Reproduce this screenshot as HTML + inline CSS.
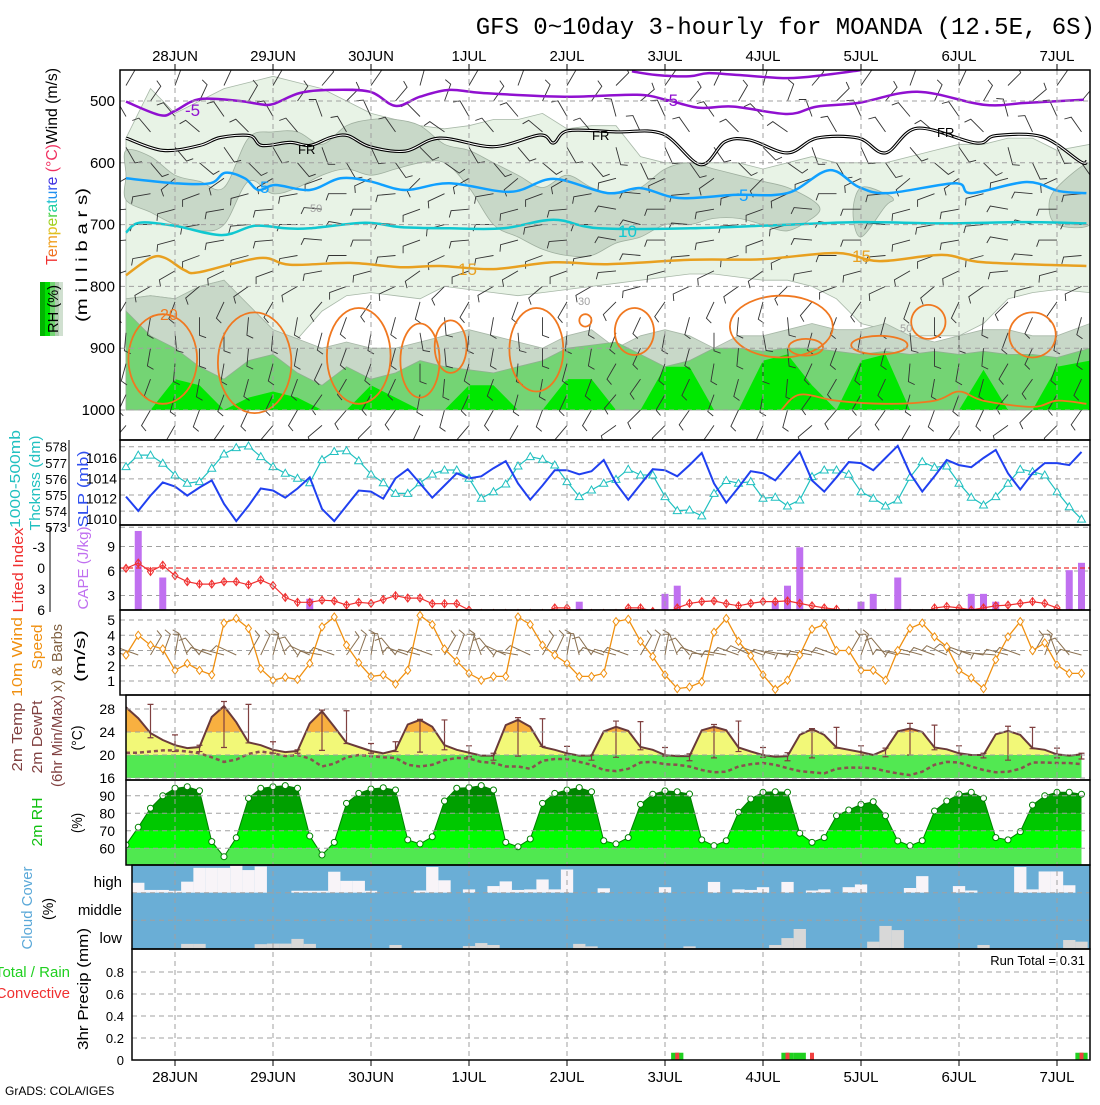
<!DOCTYPE html>
<html><head><meta charset="utf-8"><style>
body{margin:0;background:#fff}
svg text{font-family:"Liberation Sans",sans-serif}
</style></head><body>
<svg id="c" width="1100" height="1100" xmlns="http://www.w3.org/2000/svg">
<rect x="0" y="0" width="1100" height="1100" fill="#fff"/>
<text x="1095" y="34" text-anchor="end" font-family="Liberation Mono, monospace" font-size="24" style="font-family:'Liberation Mono',monospace">GFS 0~10day 3-hourly for MOANDA (12.5E, 6S)</text>

<text transform="rotate(-90 57 265)" x="57" y="265" font-size="16" textLength="197" lengthAdjust="spacingAndGlyphs"><tspan fill="#f03030">T</tspan><tspan fill="#f07020">e</tspan><tspan fill="#f0a020">m</tspan><tspan fill="#e0c020">p</tspan><tspan fill="#a0d020">e</tspan><tspan fill="#40d040">r</tspan><tspan fill="#20d0a0">a</tspan><tspan fill="#20c0d0">t</tspan><tspan fill="#2090f0">u</tspan><tspan fill="#3050f0">r</tspan><tspan fill="#4030e0">e</tspan><tspan fill="#f03060"> (°C)</tspan><tspan fill="#000">Wind (m/s)</tspan></text>
<text transform="rotate(-90 87 255)" x="87" y="255" font-size="16" text-anchor="middle" textLength="134" lengthAdjust="spacingAndGlyphs">(m i l l i b a r s)</text>
<g>
<rect x="40" y="282" width="5" height="54" fill="#00b400"/><rect x="45" y="282" width="5" height="54" fill="#00e000"/><rect x="50" y="282" width="5" height="54" fill="#74d474"/><rect x="55" y="282" width="4" height="54" fill="#b0ccb0"/><rect x="59" y="282" width="4" height="54" fill="#d0e0d0"/>
<text transform="rotate(-90 58 309)" x="58" y="309" font-size="15" text-anchor="middle" textLength="48" lengthAdjust="spacingAndGlyphs">RH (%)</text>
</g>
<text transform="rotate(-90 20 479)" x="20" y="479" font-size="15" fill="#20c0c0" text-anchor="middle" textLength="98" lengthAdjust="spacingAndGlyphs">1000-500mb</text>
<text transform="rotate(-90 40 483)" x="40" y="483" font-size="15" fill="#20c0c0" text-anchor="middle" textLength="95" lengthAdjust="spacingAndGlyphs">Thcknss (dm)</text>
<text transform="rotate(-90 88 489)" x="88" y="489" font-size="15" fill="#3050f0" text-anchor="middle" textLength="77" lengthAdjust="spacingAndGlyphs">SLP (mb)</text>
<text transform="rotate(-90 23 570)" x="23" y="570" font-size="15" fill="#f03030" text-anchor="middle" textLength="85" lengthAdjust="spacingAndGlyphs">Lifted Index</text>
<text transform="rotate(-90 88 568)" x="88" y="568" font-size="15" fill="#c070f0" text-anchor="middle" textLength="83" lengthAdjust="spacingAndGlyphs">CAPE (J/kg)</text>
<text transform="rotate(-90 22 657)" x="22" y="657" font-size="15" fill="#f09010" text-anchor="middle" textLength="80" lengthAdjust="spacingAndGlyphs">10m Wind</text>
<text transform="rotate(-90 42 647)" x="42" y="647" font-size="15" fill="#f09010" text-anchor="middle" textLength="45" lengthAdjust="spacingAndGlyphs">Speed</text>
<text transform="rotate(-90 62 658)" x="62" y="658" font-size="15" fill="#806040" text-anchor="middle" textLength="68" lengthAdjust="spacingAndGlyphs">x) &amp; Barbs</text>
<text transform="rotate(-90 85 656)" x="85" y="656" font-size="15" text-anchor="middle" textLength="52" lengthAdjust="spacingAndGlyphs">(m/s)</text>
<text transform="rotate(-90 22 737)" x="22" y="737" font-size="15" fill="#804040" text-anchor="middle" textLength="69" lengthAdjust="spacingAndGlyphs">2m Temp</text>
<text transform="rotate(-90 42 737)" x="42" y="737" font-size="15" fill="#804040" text-anchor="middle" textLength="73" lengthAdjust="spacingAndGlyphs">2m DewPt</text>
<text transform="rotate(-90 62 741)" x="62" y="741" font-size="15" fill="#804040" text-anchor="middle" textLength="92" lengthAdjust="spacingAndGlyphs">(6hr Min/Max)</text>
<text transform="rotate(-90 82 738)" x="82" y="738" font-size="15" text-anchor="middle" textLength="25" lengthAdjust="spacingAndGlyphs">(°C)</text>
<text transform="rotate(-90 42 822)" x="42" y="822" font-size="15" fill="#10c010" text-anchor="middle" textLength="49" lengthAdjust="spacingAndGlyphs">2m RH</text>
<text transform="rotate(-90 82 823)" x="82" y="823" font-size="15" text-anchor="middle" textLength="20" lengthAdjust="spacingAndGlyphs">(%)</text>
<text transform="rotate(-90 32 908)" x="32" y="908" font-size="15" fill="#5aa8d8" text-anchor="middle" textLength="83" lengthAdjust="spacingAndGlyphs">Cloud Cover</text>
<text transform="rotate(-90 53 909)" x="53" y="909" font-size="15" text-anchor="middle" textLength="22" lengthAdjust="spacingAndGlyphs">(%)</text>
<text x="122" y="887" font-size="15" text-anchor="end">high</text>
<text x="122" y="915" font-size="15" text-anchor="end">middle</text>
<text x="122" y="943" font-size="15" text-anchor="end">low</text>
<text x="70" y="977" font-size="15" fill="#20d020" text-anchor="end">Total / Rain</text>
<text x="70" y="998" font-size="15" fill="#f03030" text-anchor="end">Convective</text>
<text transform="rotate(-90 88 989)" x="88" y="989" font-size="15" text-anchor="middle" textLength="122" lengthAdjust="spacingAndGlyphs">3hr Precip (mm)</text>
<text x="1085" y="965" font-size="13" text-anchor="end">Run Total = 0.31</text>
<text x="5" y="1095" font-size="12">GrADS: COLA/IGES</text>
</svg>
<script>
const days=["28JUN","29JUN","30JUN","1JUL","2JUL","3JUL","4JUL","5JUL","6JUL","7JUL"];
const slp=[1012.2,1010.8,1012.3,1013.6,1013.2,1012.3,1013.1,1013.8,1011.5,1009.8,1011.3,1013.0,1012.8,1012.1,1013.0,1014.1,1011.0,1009.8,1011.3,1012.8,1012.7,1012.0,1014.0,1014.9,1013.5,1012.1,1013.3,1014.5,1014.0,1014.2,1015.0,1015.7,1013.5,1011.9,1013.3,1014.8,1014.8,1014.4,1014.7,1015.8,1013.5,1011.9,1013.4,1014.9,1014.8,1014.2,1015.3,1016.5,1013.5,1011.6,1013.1,1014.7,1014.5,1013.8,1015.2,1016.6,1013.8,1012.7,1014.1,1015.6,1015.5,1014.8,1016.0,1017.2,1014.5,1012.7,1014.2,1015.8,1015.3,1015.1,1016.0,1016.8,1014.5,1012.9,1014.5,1015.5,1015.5,1015.3,1016.6];
const thick=[576.76,577.48,577.48,576.97,576.24,575.73,575.83,576.66,577.55,577.94,578.04,577.38,576.76,576.35,576.04,575.76,577.2,577.7,577.75,577.13,576.3,575.76,575.1,575.1,575.76,576.3,576.55,576.55,576.04,574.8,575.2,575.68,576.8,577.38,577.22,576.86,575.83,574.9,575.31,575.73,575.97,576.6,576.24,576.24,574.9,574.03,574.07,573.7,575.1,575.9,575.73,575.83,574.8,574.86,574.32,574.69,576.14,576.55,576.55,576.29,575.2,574.8,574.32,574.69,576.1,577.07,576.72,576.8,575.73,574.86,574.38,574.9,575.73,576.6,576.45,576.24,575.2,574.27,573.5];
const cape=[0,10.9,0,5.2,0,0,0,0,0,0,0,0,0,0,0,2.6,0,0,0,0,0,0,0,0,0,0,0,0,0,0,0,0,0,0,0,0,0,2.24,0,0,0,0,0,0,3.2,4.2,0,0,0,0,0,0,0,2.24,4.2,8.9,0,0,0,0,2.24,3.2,0,5.2,0,0,0,0,0,3.2,3.2,2.24,0,0,0,0,0,6.1,7.0];
const li=[0.05,-0.7,0.5,-0.4,1.1,1.96,2.3,2.3,1.96,1.96,2.4,1.7,2.5,4.2,4.9,4.9,4.6,4.7,5.3,4.9,5.05,4.5,3.96,4.3,4.3,5.1,5.1,5.1,6.0,6.5,6.5,6.5,6.5,6.5,6.5,5.7,5.7,6.5,6.5,6.5,6.5,5.7,5.7,6.2,6.5,5.7,5.05,4.8,4.7,5.1,5.4,5.05,4.8,4.8,4.7,5.05,5.4,5.7,5.9,6.5,6.5,6.5,6.5,6.5,6.5,6.5,5.7,5.5,5.7,6.0,5.7,5.4,5.3,5.05,4.8,5.05,5.7,6.5,6.5];
const wspd=[2.7,4.0,3.35,3.1,1.7,2.15,1.7,1.4,4.8,5.1,4.45,1.8,1.05,1.25,1.1,2.15,4.55,5.2,3.35,2.2,1.3,1.4,0.8,1.7,5.3,4.7,3.1,2.3,1.5,1.05,1.3,1.3,5.2,4.7,3.35,2.7,2.15,1.3,1.3,1.5,4.9,5.05,3.6,2.6,1.4,0.5,0.6,0.95,4.2,5.1,3.6,2.65,1.4,0.45,1.05,2.7,4.4,4.7,3.0,3.0,1.7,1.7,1.05,3.0,4.45,4.8,3.9,3.25,1.7,1.2,0.5,2.4,3.9,4.9,3.0,3.5,2.05,1.5,1.5];
const wdir10=[195,200,300,290,280,250,230,200,195,205,300,295,285,250,235,205,190,200,305,290,280,255,230,200,195,200,300,290,285,250,230,205,190,205,300,295,280,255,235,200,195,200,300,290,280,250,230,200,185,190,200,205,200,195,190,185,190,195,200,300,290,250,230,195,190,195,200,205,210,200,190,185,195,200,300,290,250,230,195];
const temp=[28.3,26.4,23.8,22.6,21.7,21.2,21.4,26.6,28.5,25.7,22.2,21.7,20.9,20.5,20.7,25.5,27.6,24.9,22.1,21.4,20.7,20.3,20.8,25.3,26.1,24.9,21.7,20.9,20.4,19.9,19.9,25.2,26.1,24.9,21.4,20.9,20.3,19.9,19.9,24.1,24.9,24.2,21.4,20.9,20.0,19.8,19.8,24.3,24.9,24.3,21.3,20.6,20.0,19.7,19.8,23.5,24.5,23.5,21.3,20.9,20.5,20.0,20.9,24.1,24.6,24.0,21.3,21.0,20.3,20.0,20.0,23.6,24.2,23.5,21.2,20.9,20.1,19.9,20.1];
const dewp=[20.4,20.4,20.6,20.8,20.8,20.6,20.3,19.6,18.8,19.2,20.2,20.6,20.3,19.8,20.0,19.4,18.0,18.5,19.6,20.0,19.8,19.6,19.5,18.3,18.0,18.3,19.1,19.5,19.4,18.8,18.6,18.0,18.0,17.6,19.0,19.3,19.3,18.8,18.3,17.4,17.2,17.6,18.7,18.8,18.4,18.3,18.0,17.4,17.0,17.1,18.0,18.4,18.6,18.3,17.7,17.2,17.0,16.8,17.6,17.8,17.8,17.7,17.2,16.8,16.5,17.1,18.3,18.8,18.7,18.0,17.4,17.0,17.1,17.6,18.7,18.7,18.6,18.6,18.4];
const tmax=[null,28.8,23.5,21.7,29.3,28.8,22.3,20.9,27.8,27.7,22.0,22.3,26.2,26.1,21.6,20.3,26.5,26.3,21.5,20.0,25.9,25.8,21.3,20.2,25.3,25.9,21.3,20.4,24.6,24.8,21.6,21.2,25.5,25.2,21.6,20.3,25.0,24.8,21.2,20.3];
const tmin=[null,23.0,20.6,20.6,21.3,22.1,20.3,20.3,20.8,22.0,20.3,20.6,20.5,20.9,19.7,19.1,19.8,21.5,20.0,19.1,19.6,20.9,19.8,19.0,19.5,20.6,19.6,19.0,19.5,21.2,20.0,19.7,20.0,20.9,20.0,19.5,19.1,21.1,19.5,19.3];
const rh=[61.9,72,82.9,90,94.3,95.2,92.9,63.8,55.2,66,88.6,94.3,95.2,95.8,94.3,67,56.2,63.4,85.7,91.4,93.9,94.6,93.3,64.8,62.5,66.6,87,94.3,94.7,95.8,93.3,63.4,60.9,65.3,85.7,91.4,93.3,94.7,92.3,64.3,62.5,66.1,85.1,90.9,92.8,92.3,91,64.8,61.5,64.3,80.6,88.2,92,92.3,92,68.6,63.4,66.1,78.6,81.9,85.1,86.6,78.6,64.2,61.5,64.3,81.3,87,90.9,92,88.6,66.1,64.8,69.5,84.7,90,92,92,90.9];
const cldHigh=[0,36,10,10,7,40,90,90,90,100,82,95,0,0,7,7,7,76,43,43,7,0,0,0,8,93,45,0,12,0,24,41,10,12,48,12,84,0,0,16,0,0,0,0,20,0,0,0,39,0,12,10,20,0,39,0,8,12,0,20,30,0,0,0,17,60,0,0,24,8,0,0,0,93,12,77,77,27,0];
const cldLow=[0,0,0,0,0,16,16,0,0,0,0,15,17,17,34,16,0,0,0,0,0,0,12,0,0,0,0,0,8,19,12,0,0,0,0,0,0,16,7,0,0,0,0,0,0,0,7,0,0,0,0,0,0,12,37,70,0,0,0,0,0,24,81,66,0,0,0,0,0,0,12,0,0,0,0,0,0,30,24];
const precipTotal={45:0.066,54:0.066,55:0.066,78:0.066};
const precipConv={45:0.066,54:0.066,56:0.066,78:0.066};
const lightTop=[560,480,520,500,480,470,460,470,480,500,520,530,540,545,540,530,530,520,545,540,540,590,600,600,600,600,610,600,590,600,600,600,590,580,570,570,560,560,580,570];
const lightBot=[820,815,820,800,790,830,870,885,840,815,810,815,820,800,805,810,815,810,805,800,795,790,785,780,780,785,790,790,800,820,860,870,880,880,880,860,820,810,805,810];
const grayTop=[820,815,820,800,790,830,870,885,900,890,900,900,890,880,870,880,890,900,880,870,900,880,870,880,900,880,880,870,860,870,870,860,880,890,880,870,870,880,880,860];
const greenTop=[840,880,900,930,950,920,910,940,960,930,950,940,920,930,935,940,930,920,900,895,890,910,930,920,900,900,905,900,900,905,910,905,910,905,910,905,910,910,915,900];
const brightTop=[1000,1000,950,960,1000,980,970,980,1000,1000,960,980,1000,1000,960,960,1000,1000,950,950,1000,1000,930,930,1000,1000,920,910,960,1000,920,910,1000,1000,1000,935,1000,1000,930,920];
const midTop=[580,590,620,630,640,560,550,550,570,540,530,530,540,570,580,600,620,640,620,640,650,640,610,600,610,620,630,640,660,0,640,650,0,0,0,0,0,0,640,600];
const midBot=[660,680,700,710,700,630,650,640,620,610,620,610,600,600,640,700,720,740,750,750,730,720,700,700,690,690,700,710,690,0,720,670,0,0,0,0,0,0,700,700];
const cM5=[[0,501],[2.8,523],[4,516],[6,497],[9.3,500],[10.9,505],[12,505],[14.2,487],[16.7,482],[19.9,485],[22,508],[24,493],[26.4,482],[29.1,487],[35.8,493],[41.7,490],[44.1,498],[46.8,511],[49.6,509],[54,521],[56.4,509],[59.8,503],[64.6,485],[70,506],[73.5,503],[78.2,498]];
const cM5b=[[41.3,452],[43.3,458],[46,460],[47.5,455],[50,458],[54,463],[57,458],[60,450]];
const cFR=[[0,560],[3,580],[6,572],[7.7,559],[10.1,556],[11.1,572],[13.4,567],[15,572],[16.7,559],[18.1,556],[19.9,574],[22.8,581],[25.6,560],[30,574],[33.8,555],[34.9,568],[36.1,548],[40,550],[43.8,553],[46.9,603],[48.9,566],[50.9,563],[54,584],[56.4,560],[59.8,560],[62,584],[64.6,544],[69.4,568],[71,556],[74.8,558],[77.9,598],[78.4,598]];
const cP5=[[0,625],[4,633],[6.9,633],[8.1,616],[9.7,625],[10.8,644],[12.2,636],[15,644],[17.5,625],[19.9,630],[22.8,644],[26.4,633],[31.4,647],[34.9,626],[39.3,649],[42,641],[45.1,657],[49.6,652],[54,649],[57.4,612],[59.8,639],[62.2,649],[67.7,633],[69,649],[73.5,631],[76.2,646],[78.4,649]];
const cP10=[[0,713],[1.1,697],[4,702],[7.8,717],[10.5,702],[13,706],[15,706],[19.5,697],[22.4,704],[26.4,706],[30.8,706],[34.9,692],[38.6,706],[46.1,706],[53,701],[59.8,696],[66.6,698],[73.5,696],[78.4,698]];
const cP15=[[0,782],[2,754],[3.2,754],[4.8,774],[6,777],[10.9,754],[13.4,765],[18.3,762],[22.4,769],[25.6,767],[30,772],[34.9,761],[39.3,764],[46.1,757],[51.9,756],[58,746],[61.5,759],[66.6,749],[70,761],[78.4,767]];
const loopC=[3,10.5,19,24,26.5,33.5,37.5,41.5,53.5,65.5,74,55.5,61.5];
const loopW=[2.8,3,2.6,1.6,1.3,2.2,0.5,1.6,4.2,1.4,1.9,1.4,2.3];
const loopTop=[845,842,835,860,855,835,845,835,815,830,842,885,880];
const loopBot=[990,1005,990,980,940,970,865,911,915,885,915,912,910];
const cP20low=[[53.5,1000],[55,975],[58,985],[62,990],[66,985],[68,970],[70,985],[74,995],[76,985],[78.4,990]];
const barbLevels=[475,500,525,550,575,600,625,650,675,700,725,750,775,800,825,850,875,900,925,950,975,1000,1025];
const barbRowDir=[-60,-55,-120,-130,60,50,150,170,175,180,175,170,160,150,120,100,95,100,105,110,115,120,130];
const barbColWob=[0,10,-10,5,-5,15,0,-10,10,-5,5,0,-15,10,0,5,-10,10,0,-5,15,-10,5,0,-5,10,-15,0,10,-5,5,0,-10,10,-5,0,15,-10,5,0];

const svg=document.getElementById('c');
const NS='http://www.w3.org/2000/svg';
function mk(tag,attrs,parent){const e=document.createElementNS(NS,tag);for(const k in attrs)e.setAttribute(k,attrs[k]);(parent||svg).appendChild(e);return e;}
const X=i=>126+12.25*i;
const PY=p=>101+(p-500)*0.618;
const ySLP=v=>458-(v-1016)*10.17;
const yTH=v=>446.7+(578-v)*16.1;
const yLI=v=>568+v*7;
const yCAPE=v=>620-v*8.17;
const yWS=v=>681-(v-1)*15.25;
const yT=v=>778-(v-16)*5.75;
const yRH=v=>848.3-(v-60)*1.75;
const yPR=v=>1060-v*110;
function smooth(pts,close){
  const n=pts.length;let d=`M${pts[0][0].toFixed(1)},${pts[0][1].toFixed(1)}`;
  for(let i=0;i<(close?n:n-1);i++){
    const g=j=>close?pts[(j+n)%n]:pts[Math.max(0,Math.min(n-1,j))];
    const p0=g(i-1),p1=g(i),p2=g(i+1),p3=g(i+2);
    d+=` C${(p1[0]+(p2[0]-p0[0])/6).toFixed(1)},${(p1[1]+(p2[1]-p0[1])/6).toFixed(1)} ${(p2[0]-(p3[0]-p1[0])/6).toFixed(1)},${(p2[1]-(p3[1]-p1[1])/6).toFixed(1)} ${p2[0].toFixed(1)},${p2[1].toFixed(1)}`;
  }
  return d+(close?'Z':'');
}
const defs=mk('defs',{});
function clip(id,x,y,w,h){const c=mk('clipPath',{id:id},defs);mk('rect',{x:x,y:y,width:w,height:h},c);}
clip('cp1',120,70,970,370);clip('cp2',120,440,970,85);clip('cp3',120,525,970,85);clip('cp4',120,610,970,85);
clip('cp5',126,695,964,85);clip('cp6',126,780,964,85);clip('cp7',132,865,958,84);clip('cp8',132,949,958,111);

const g1=mk('g',{'clip-path':'url(#cp1)'});


const kx=k=>k===39?1090:(k===0?126:X(2*k));
function band(top,bot,fill,stroke,name){
  let up=[],dn=[];
  for(let k=0;k<40;k++){up.push(`${kx(k)},${PY(top[k]).toFixed(1)}`);dn.unshift(`${kx(k)},${PY(bot[k]).toFixed(1)}`);}
  const e=mk('polygon',{points:up.concat(dn).join(' '),fill:fill,stroke:stroke,'stroke-width':0.8},g1);
  
  
}
const floor=Array(40).fill(1000);
band(lightTop,lightBot,'#e8f3e6','#a8b8a8','rh-light-region');
band(grayTop,floor,'#c8d8c8','#a8b8a8','rh-mid-region');
band(greenTop,floor,'#74d474','#90b090','rh-high-region');
band(brightTop,floor,'#00e800','none','rh-saturated-region');
for(let k=0;k<40;k++){
  if(midTop[k]===0)continue;
  let s=k;while(k+1<40&&midTop[k+1]!==0)k++;
  const up=[];
  const lx=kx(s)-(s===0?0:8),rx=kx(k)+(k===39?0:8);
  const mid0=(midTop[s]+midBot[s])/2,mid1=(midTop[k]+midBot[k])/2;
  up.push([lx,PY(mid0)]);
  for(let j=s;j<=k;j++)up.push([kx(j),PY(midTop[j])]);
  up.push([rx,PY(mid1)]);
  for(let j=k;j>=s;j--)up.push([kx(j),PY(midBot[j])]);
  const b=mk('path',{d:smooth(up,true),fill:'#c8d8c8',stroke:'#a0b0a0','stroke-width':0.8},g1);
  
  
}
// upper-air wind barbs (sparser)
for(let r=0;r<barbLevels.length;r++){
  for(let k=0;k<20;k++){
    const i=4*k+(r%2)*2;if(i>78)continue;
    const cx=X(i),cy=PY(barbLevels[r]);
    const a=(barbRowDir[r]+barbColWob[2*k])*Math.PI/180,L=18;
    const ex=cx+L*Math.cos(a),ey=cy+L*Math.sin(a);
    const ta=a-70*Math.PI/180;
    const b=mk('path',{d:`M${cx.toFixed(1)},${cy.toFixed(1)}L${ex.toFixed(1)},${ey.toFixed(1)}l${(7*Math.cos(ta)).toFixed(1)},${(7*Math.sin(ta)).toFixed(1)}`,stroke:'#333',fill:'none','stroke-width':0.9},g1);
    
    
  }
}
function contour(pts,color,w,name){
  const P=pts.map(q=>[X(q[0]),PY(q[1])]);
  const e=mk('path',{d:smooth(P,false),fill:'none',stroke:color,'stroke-width':w},g1);
  
  
  return P;
}
for(let j=0;j<loopC.length;j++){
  const pts=[];const mid=(loopTop[j]+loopBot[j])/2,half=(loopBot[j]-loopTop[j])/2;
  for(let a=0;a<12;a++){const t=a/12*2*Math.PI;pts.push([X(loopC[j]+loopW[j]*Math.cos(t)),PY(mid+half*Math.sin(t))]);}
  const e=mk('path',{d:smooth(pts,true),fill:'none',stroke:'#f07820','stroke-width':1.8},g1);
  
  
}
contour(cP20low,'#f07820',1.8,'contour-20c-low');
contour(cM5,'#9010d0',2.5,'contour-minus5c');
contour(cM5b,'#9010d0',2.5,'contour-minus5c-upper');
contour(cFR,'#000',3.2,'contour-freezing');
const frw=mk('path',{d:smooth(cFR.map(q=>[X(q[0]),PY(q[1])]),false),fill:'none',stroke:'#fff','stroke-width':1},g1);


contour(cP5,'#10a0ff',2.5,'contour-5c');
contour(cP10,'#10c8d0',2.5,'contour-10c');
contour(cP15,'#e8a020',2.5,'contour-15c');
const clabs=[[185,116,'-5','#9010d0',17],[663,106,'-5','#9010d0',17],[298,154,'FR','#000',13],[592,140,'FR','#000',13],[937,137,'FR','#000',13],[260,193,'5','#10a0ff',17],[739,201,'5','#10a0ff',17],[618,237,'10','#10c8d0',17],[458,275,'15','#e8a020',17],[852,262,'15','#e8a020',17],[160,320,'20','#f07820',16],[310,212,'50','#a0a0a0',11],[578,305,'30','#a0a0a0',11],[900,332,'50','#a0a0a0',11]];
for(const c of clabs){
  const t=mk('text',{x:c[0],y:c[1],fill:c[3],'font-size':c[4]},g1);t.textContent=c[2];
  
  
}

function hgrid(y,x0,name){const l=mk('line',{x1:x0,x2:1090,y1:y,y2:y,stroke:'#a0a0a0','stroke-dasharray':'5,4','stroke-width':1});}
function tick(txt,x,y,size,name){const t=mk('text',{x:x,y:y+5,'text-anchor':'end','font-size':size});t.textContent=txt;}
const pTicks=[500,600,700,800,900,1000];
for(const p of pTicks){hgrid(PY(p),120,'pressure-gridline');tick(String(p),115,PY(p),15,'pressure-tick-label');}
const slpTicks=[1010,1012,1014,1016];
const thTicks=[573,574,575,576,577,578];
for(const v of thTicks){hgrid(yTH(v),120,'thickness-gridline');tick(String(v),67,yTH(v),13,'thickness-tick-label');}
for(const v of slpTicks){tick(String(v),117,ySLP(v),14,'slp-tick-label');}
const liTicks=[-3,0,3,6];
for(const v of liTicks){tick(String(v),45,yLI(v),14,'li-tick-label');}
const capeTicks=[3,6,9];
for(const v of capeTicks){hgrid(yCAPE(v),120,'cape-gridline');tick(String(v),115,yCAPE(v),14,'cape-tick-label');}
const wsTicks=[1,2,3,4,5];
for(const v of wsTicks){hgrid(yWS(v),120,'wind-gridline');tick(String(v),115,yWS(v),14,'wind-tick-label');}
const tTicks=[16,20,24,28];
const rhTicks=[60,70,80,90];
const prTicks=[0,0.2,0.4,0.6,0.8];
for(const v of prTicks){hgrid(yPR(v),132,'precip-gridline');tick(String(v),124,yPR(v),13,'precip-tick-label');}
const axl=[[69,440,69,527],[50,527,50,612]];
for(const a of axl){const l=mk('line',{x1:a[0],y1:a[1],x2:a[2],y2:a[3],stroke:'#000'});}

const g2=mk('g',{'clip-path':'url(#cp2)'});


const thl=mk('polyline',{points:thick.map((v,i)=>`${X(i)},${yTH(v).toFixed(1)}`).join(' '),fill:'none',stroke:'#20c0c0','stroke-width':1.2},g2);


thick.forEach((v,i)=>{const x=X(i),y=yTH(v);const m=mk('polygon',{points:`${x},${y-4} ${x-4},${y+3} ${x+4},${y+3}`,fill:'#fff',stroke:'#20c0c0','stroke-width':1},g2);

});
const sl=mk('polyline',{points:slp.map((v,i)=>`${X(i)},${ySLP(v).toFixed(1)}`).join(' '),fill:'none',stroke:'#2040f0','stroke-width':2},g2);



const g3=mk('g',{'clip-path':'url(#cp3)'});


cape.forEach((v,i)=>{if(v<=0)return;const y=yCAPE(v);const b=mk('rect',{x:X(i)-3.5,y:y,width:7,height:610-y,fill:'#c070f0'},g3);

});
const zl=mk('line',{x1:120,x2:1090,y1:yLI(0),y2:yLI(0),stroke:'#f03030','stroke-dasharray':'5,3','stroke-width':1.2},g3);


const lil=mk('polyline',{points:li.map((v,i)=>`${X(i)},${yLI(v).toFixed(1)}`).join(' '),fill:'none',stroke:'#f03030','stroke-width':1.2},g3);


li.forEach((v,i)=>{const x=X(i),y=yLI(v);const m=mk('path',{d:`M${x},${y-4}L${x+3},${y}L${x},${y+4}L${x-3},${y}Z M${x},${y-4}V${y+4}`,fill:'none',stroke:'#f03030','stroke-width':1},g3);

});

const g4=mk('g',{'clip-path':'url(#cp4)'});


wdir10.forEach((d,i)=>{const x=X(i),y=655,a=d*Math.PI/180,L=22;const ex=x+L*Math.cos(a),ey=y+L*Math.sin(a),ta=a-70*Math.PI/180;
const b=mk('path',{d:`M${x},${y}L${ex.toFixed(1)},${ey.toFixed(1)}l${(7*Math.cos(ta)).toFixed(1)},${(7*Math.sin(ta)).toFixed(1)}`,fill:'none',stroke:'#8a7050','stroke-width':1},g4);

});
const wl=mk('polyline',{points:wspd.map((v,i)=>`${X(i)},${yWS(v).toFixed(1)}`).join(' '),fill:'none',stroke:'#f09010','stroke-width':1.3},g4);


wspd.forEach((v,i)=>{const x=X(i),y=yWS(v);const m=mk('path',{d:`M${x},${y-4}L${x+3},${y}L${x},${y+4}L${x-3},${y}Z`,fill:'#fff',stroke:'#f09010','stroke-width':1},g4);

});

const g5=mk('g',{'clip-path':'url(#cp5)'});


const tcp=mk('clipPath',{id:'tarea'},defs);
mk('path',{d:`M${X(0)},780 `+temp.map((v,i)=>`L${X(i)},${yT(v).toFixed(1)}`).join(' ')+` L${X(78)},780Z`},tcp);
const tg=mk('g',{'clip-path':'url(#tarea)'},g5);


const tb=[[16,20,'#52e852'],[20,24,'#f2f878'],[24,40,'#f8b040']];
for(const b of tb){const r=mk('rect',{x:120,width:970,y:yT(b[1]),height:yT(b[0])-yT(b[1]),fill:b[2]},tg);}
tmax.forEach((v,k)=>{if(v===null)return;const x=X(2*k),y1=yT(v),y2=yT(tmin[k]);
const e=mk('path',{d:`M${x},${y1}V${y2}M${x-3},${y1}h6M${x-3},${y2}h6`,stroke:'#804040','stroke-width':1.2,fill:'none'},g5);

});
const dl=mk('polyline',{points:dewp.map((v,i)=>`${X(i)},${yT(v).toFixed(1)}`).join(' '),fill:'none',stroke:'#8a5050','stroke-width':2.5,'stroke-dasharray':'4,3'},g5);


const tl=mk('polyline',{points:temp.map((v,i)=>`${X(i)},${yT(v).toFixed(1)}`).join(' '),fill:'none',stroke:'#6a3a3a','stroke-width':2},g5);


for(const v of tTicks){hgrid(yT(v),126,'temp-gridline');tick(String(v),115,yT(v),14,'temp-tick-label');}

const g6=mk('g',{'clip-path':'url(#cp6)'});


const rcp=mk('clipPath',{id:'rarea'},defs);
mk('path',{d:`M${X(0)},865 `+rh.map((v,i)=>`L${X(i)},${yRH(v).toFixed(1)}`).join(' ')+` L${X(78)},865Z`},rcp);
const rg=mk('g',{'clip-path':'url(#rarea)'},g6);


const rb=[[40,60,'#50e850'],[60,70,'#00ff00'],[70,80,'#00c800'],[80,90,'#00a000'],[90,110,'#008400']];
for(const b of rb){const r=mk('rect',{x:120,width:970,y:yRH(b[1]),height:yRH(b[0])-yRH(b[1]),fill:b[2]},rg);}
const rl=mk('polyline',{points:rh.map((v,i)=>`${X(i)},${yRH(v).toFixed(1)}`).join(' '),fill:'none',stroke:'#008000','stroke-width':1},g6);


for(const v of rhTicks){hgrid(yRH(v),126,'rh-gridline');tick(String(v),115,yRH(v),14,'rh-tick-label');}
rh.forEach((v,i)=>{const c=mk('circle',{cx:X(i),cy:yRH(v),r:3,fill:'#fff',stroke:'#008000','stroke-width':1},g6);

});

const g7=mk('g',{'clip-path':'url(#cp7)'});


const cb=mk('rect',{x:132,y:865,width:958,height:84,fill:'#6aaed6'},g7);


cldHigh.forEach((v,i)=>{if(v<=0)return;const h=v/100*27.6;const r=mk('rect',{x:X(i)-6.125,y:892.7-h,width:12.3,height:h,fill:'#f8f4f8'},g7);

});
cldLow.forEach((v,i)=>{if(v<=0)return;const h=v/100*27.6;const r=mk('rect',{x:X(i)-6.125,y:948.3-h,width:12.3,height:h,fill:'#d8d8d8'},g7);

});
hgrid(892.7,132,'cloud-gridline');hgrid(920.3,132,'cloud-gridline');

const g8=mk('g',{'clip-path':'url(#cp8)'});


for(const k in precipTotal){const v=precipTotal[k];const r=mk('rect',{x:X(+k)-6.125,y:yPR(v),width:12.25,height:1060-yPR(v),fill:'#20d020'},g8);

}
for(const k in precipConv){const v=precipConv[k];const r=mk('rect',{x:X(+k)-2,y:yPR(v),width:4,height:1060-yPR(v),fill:'#f04040'},g8);

}

days.forEach((d,j)=>{const x=X(4+8*j);
  const v=mk('line',{x1:x,x2:x,y1:70,y2:1060,stroke:'#a0a0a0','stroke-dasharray':'5,4','stroke-width':1});
  
  
  const t1=mk('text',{x:x,y:61,'text-anchor':'middle','font-size':15});t1.textContent=d;
  
  
  const t2=mk('text',{x:x,y:1082,'text-anchor':'middle','font-size':15});t2.textContent=d;
  
  
  const tk=mk('path',{d:`M${x},64V70M${x},1060V1066`,stroke:'#000'});
  
  
});
const frames=[[120,70,970,370],[120,440,970,85],[120,525,970,85],[120,610,970,85],[126,695,964,85],[126,780,964,85],[132,865,958,84],[132,949,958,111]];
for(const f of frames){const r=mk('rect',{x:f[0],y:f[1],width:f[2],height:f[3],fill:'none',stroke:'#000','stroke-width':1.5});

}
</script>
</body></html>
